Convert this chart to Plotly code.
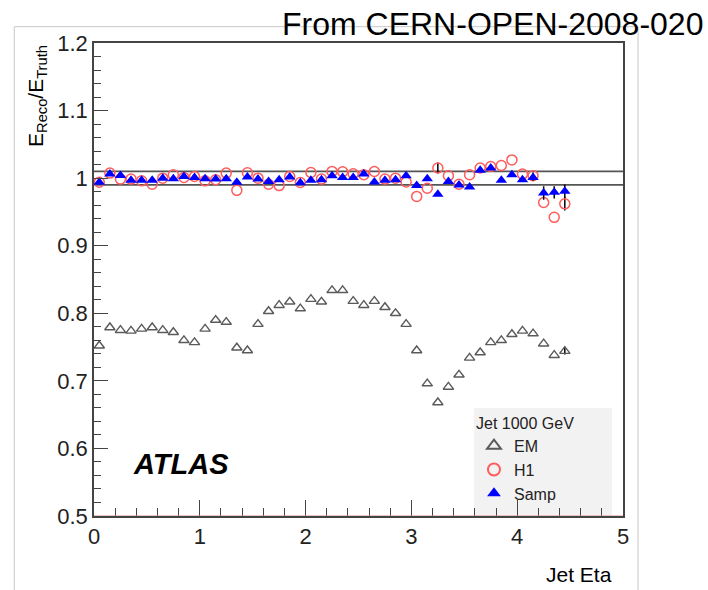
import plotly.graph_objects as go

# Jet eta bin centres
eta = [0.05, 0.15, 0.25, 0.35, 0.45, 0.55, 0.65, 0.75, 0.85, 0.95,
       1.05, 1.15, 1.25, 1.35, 1.45, 1.55, 1.65, 1.75, 1.85, 1.95,
       2.05, 2.15, 2.25, 2.35, 2.45, 2.55, 2.65, 2.75, 2.85, 2.95,
       3.05, 3.15, 3.25, 3.35, 3.45, 3.55, 3.65, 3.75, 3.85, 3.95,
       4.05, 4.15, 4.25, 4.35, 4.45]

em = [0.752, 0.779, 0.775, 0.774, 0.777, 0.779, 0.775, 0.772, 0.760, 0.757,
      0.777, 0.790, 0.787, 0.749, 0.745, 0.784, 0.803, 0.812, 0.817, 0.807,
      0.821, 0.817, 0.834, 0.834, 0.818, 0.812, 0.818, 0.809, 0.800, 0.784,
      0.745, 0.696, 0.668, 0.691, 0.709, 0.734, 0.742, 0.757, 0.760, 0.769,
      0.774, 0.770, 0.755, 0.738, 0.744]
em_err = [0.0] * 44 + [0.005]

h1 = [0.994, 1.0075, 0.9986, 0.9986, 0.996, 0.991, 1.000, 1.005, 1.001, 1.0025,
      0.996, 0.9976, 1.0075, 0.982, 1.008, 1.000, 0.991, 0.989, 1.0025, 0.9936,
      1.0084, 0.9986, 1.010, 1.0094, 1.0065, 1.005, 1.0099, 0.9986, 1.000, 0.9943,
      0.973, 0.985, 1.015, 1.0035, 0.991, 1.005, 1.015, 1.0173, 1.0187, 1.027,
      1.006, 1.0035, 0.964, 0.942, 0.962]
h1_err = [0.0, 0.0, 0.0, 0.0, 0.0, 0.0, 0.0, 0.0, 0.0, 0.0,
          0.0, 0.0, 0.0, 0.0, 0.0, 0.0, 0.0, 0.0, 0.0, 0.0,
          0.0, 0.0, 0.0, 0.0, 0.0, 0.0, 0.0, 0.0, 0.0, 0.0,
          0.0, 0.0, 0.008, 0.0, 0.0, 0.0, 0.0, 0.0, 0.0, 0.0,
          0.0, 0.005, 0.0, 0.0, 0.010]

samp = [0.994, 1.006, 1.004, 0.997, 0.997, 0.997, 1.000, 0.999, 1.0025, 1.001,
        0.999, 0.9986, 0.999, 0.994, 1.0016, 0.9986, 0.995, 0.9976, 1.0016, 0.993,
        0.9967, 0.9976, 1.0035, 1.001, 1.001, 1.006, 0.9943, 0.9967, 0.9976, 1.0035,
        0.989, 0.999, 0.976, 0.995, 0.990, 0.987, 1.0115, 1.015, 0.9967, 1.005,
        0.9976, 1.001, 0.978, 0.979, 0.9805]
samp_err = [0.0, 0.0, 0.0, 0.0, 0.0, 0.0, 0.0, 0.0, 0.0, 0.0,
            0.0, 0.0, 0.0, 0.0, 0.0, 0.0, 0.0, 0.0, 0.0, 0.0,
            0.0, 0.0, 0.0, 0.0, 0.0, 0.0, 0.0, 0.0, 0.0, 0.0,
            0.0, 0.0, 0.0, 0.0, 0.0, 0.0, 0.0, 0.0, 0.0, 0.0,
            0.0, 0.005, 0.010, 0.009, 0.010]

series_names = ["EM", "H1", "Samp"]
ref_lines = [0.99, 1.01]
x_range = [0, 5]
y_range = [0.5, 1.2]
legend_title = "Jet 1000 GeV"

FONT = "Liberation Sans, Arial, Helvetica, sans-serif"

fig = go.Figure()
fig.add_trace(go.Scatter(
    x=eta, y=em, mode="markers", name=series_names[0],
    error_y=dict(type="data", array=em_err, color="black", thickness=1.5, width=0),
    marker=dict(symbol="triangle-up-open", size=9, color="#5a5a5a",
                line=dict(color="#5a5a5a", width=1.4)),
))
fig.add_trace(go.Scatter(
    x=eta, y=h1, mode="markers", name=series_names[1],
    error_y=dict(type="data", array=h1_err, color="black", thickness=1.5, width=0),
    marker=dict(symbol="circle-open", size=10, color="#ff5c5c",
                line=dict(color="#ff5c5c", width=1.5)),
))
fig.add_trace(go.Scatter(
    x=eta, y=samp, mode="markers", name=series_names[2],
    error_y=dict(type="data", array=samp_err, color="black", thickness=1.5, width=0),
    marker=dict(symbol="triangle-up", size=10, color="#0000ff",
                line=dict(width=0)),
))

shapes = []
for v in ref_lines:
    shapes.append(dict(type="line", xref="paper", yref="y", x0=0, x1=1, y0=v, y1=v,
                       line=dict(color="#555555", width=1.8), layer="below"))
# outer frame of the picture
shapes.append(dict(type="rect", xref="paper", yref="paper",
                   x0=-0.1507, x1=1.0284, y0=-0.17, y1=1.0345,
                   line=dict(color="#c8c8c8", width=1), layer="below"))
# legend box background
shapes.append(dict(type="rect", xref="paper", yref="paper",
                   x0=0.7183, x1=0.979, y0=0.0, y1=0.2283,
                   fillcolor="#f2f2f2", line=dict(width=0), layer="below"))
# reddish baseline at the bottom
shapes.append(dict(type="line", xref="paper", yref="y", x0=0, x1=1,
                   y0=y_range[0], y1=y_range[0],
                   line=dict(color="#d98a8a", width=1), layer="above"))

annotations = [
    dict(text="From CERN-OPEN-2008-020", xref="paper", yref="paper",
         x=1.155, y=1.040, xanchor="right", yanchor="middle", showarrow=False,
         font=dict(family=FONT, size=32, color="black")),
    dict(text="E<sub>Reco</sub>/E<sub>Truth</sub>", xref="paper", yref="paper",
         x=-0.1078, y=1.0, xanchor="center", yanchor="top", showarrow=False,
         textangle=-90, font=dict(family=FONT, size=21, color="black")),
    dict(text="<b><i>ATLAS</i></b>", xref="paper", yref="paper",
         x=0.1645, y=0.110, xanchor="center", yanchor="middle", showarrow=False,
         font=dict(family=FONT, size=29, color="black")),
    dict(text="Jet Eta", xref="paper", yref="paper",
         x=0.983, y=-0.1247, xanchor="right", yanchor="middle", showarrow=False,
         font=dict(family=FONT, size=21, color="black")),
]

fig.update_layout(
    width=708, height=590,
    margin=dict(l=94, r=85, t=43, b=74, pad=0),
    paper_bgcolor="white", plot_bgcolor="white",
    font=dict(family=FONT, size=22, color="#222222"),
    showlegend=True,
    legend=dict(x=0.7183, y=0.2283, xanchor="left", yanchor="top",
                bgcolor="rgba(0,0,0,0)", borderwidth=0,
                font=dict(family=FONT, size=16, color="#222222"),
                title=dict(text=legend_title, font=dict(family=FONT, size=16, color="#222222")),
                itemsizing="constant"),
    shapes=shapes,
    annotations=annotations,
)
fig.update_xaxes(range=x_range, dtick=1, tick0=0, ticks="inside", ticklen=16,
                 tickwidth=1, tickcolor="#444444", showline=True, linecolor="#444444",
                 linewidth=1.5, mirror=True, showgrid=False, zeroline=False,
                 automargin=False,
                 tickfont=dict(family=FONT, size=22, color="#222222"),
                 minor=dict(dtick=0.2, ticks="inside", ticklen=8, tickcolor="#444444",
                            showgrid=False))
fig.update_yaxes(range=y_range, dtick=0.1, tick0=0.5, ticks="inside", ticklen=14,
                 tickwidth=1, tickcolor="#444444", showline=True, linecolor="#444444",
                 linewidth=1.5, mirror=True, showgrid=False, zeroline=False,
                 automargin=False,
                 tickfont=dict(family=FONT, size=22, color="#222222"),
                 minor=dict(dtick=0.02, ticks="inside", ticklen=7, tickcolor="#444444",
                            showgrid=False))

fig.write_html("out.html")
